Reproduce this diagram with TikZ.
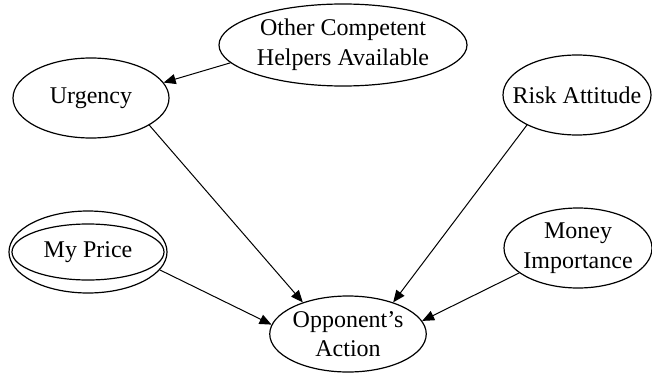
\documentclass[tikz,border=0pt]{standalone}
\usepackage{fontspec}
\setmainfont{Liberation Serif}
\usetikzlibrary{shapes.geometric,arrows.meta}
\tikzset{var/.style={draw=black,ellipse,inner sep=0pt,align=center,line width=.6pt,
   font=\fontsize{12}{14.8}\selectfont},
 infl/.style={draw=black,line width=.5pt,-{Triangle[length=6pt,width=5pt]}},
 every picture/.style={line join=round,line cap=round}}

\begin{document}
\begin{tikzpicture}[x=0.5pt,y=-0.5pt]
\useasboundingbox (0,0) rectangle (652,374);
\node[var,minimum width=124pt,minimum height=41pt] (helpers) at (343,45) {Other Competent\\Helpers Available};
\node[var,minimum width=78pt,minimum height=40pt] (urgency) at (91,98) {Urgency};
\node[var,inner xsep=-9pt,minimum width=74pt,minimum height=40pt] (risk) at (577,95) {Risk Attitude};
\node[var,minimum width=79pt,minimum height=41pt] (price) at (88,252) {My Price};
\draw[line width=.6pt] (price.center) ellipse [x radius=38pt,y radius=14pt];
\node[var,inner xsep=-4pt,minimum width=74pt,minimum height=40pt] (money) at (578,248) {Money\\Importance};
\node[var,minimum width=78pt,minimum height=38pt] (action) at (348,334) {Opponent's\\Action};
\draw[infl] (helpers.189) -- (urgency.12);
\draw[infl] (urgency.-25) -- (action.145);
\draw[infl] (risk.211) -- (action.35);
\draw[infl] (price.-14) -- (action.173);
\draw[infl] (money.203) -- (action.10);
\end{tikzpicture}
\end{document}
